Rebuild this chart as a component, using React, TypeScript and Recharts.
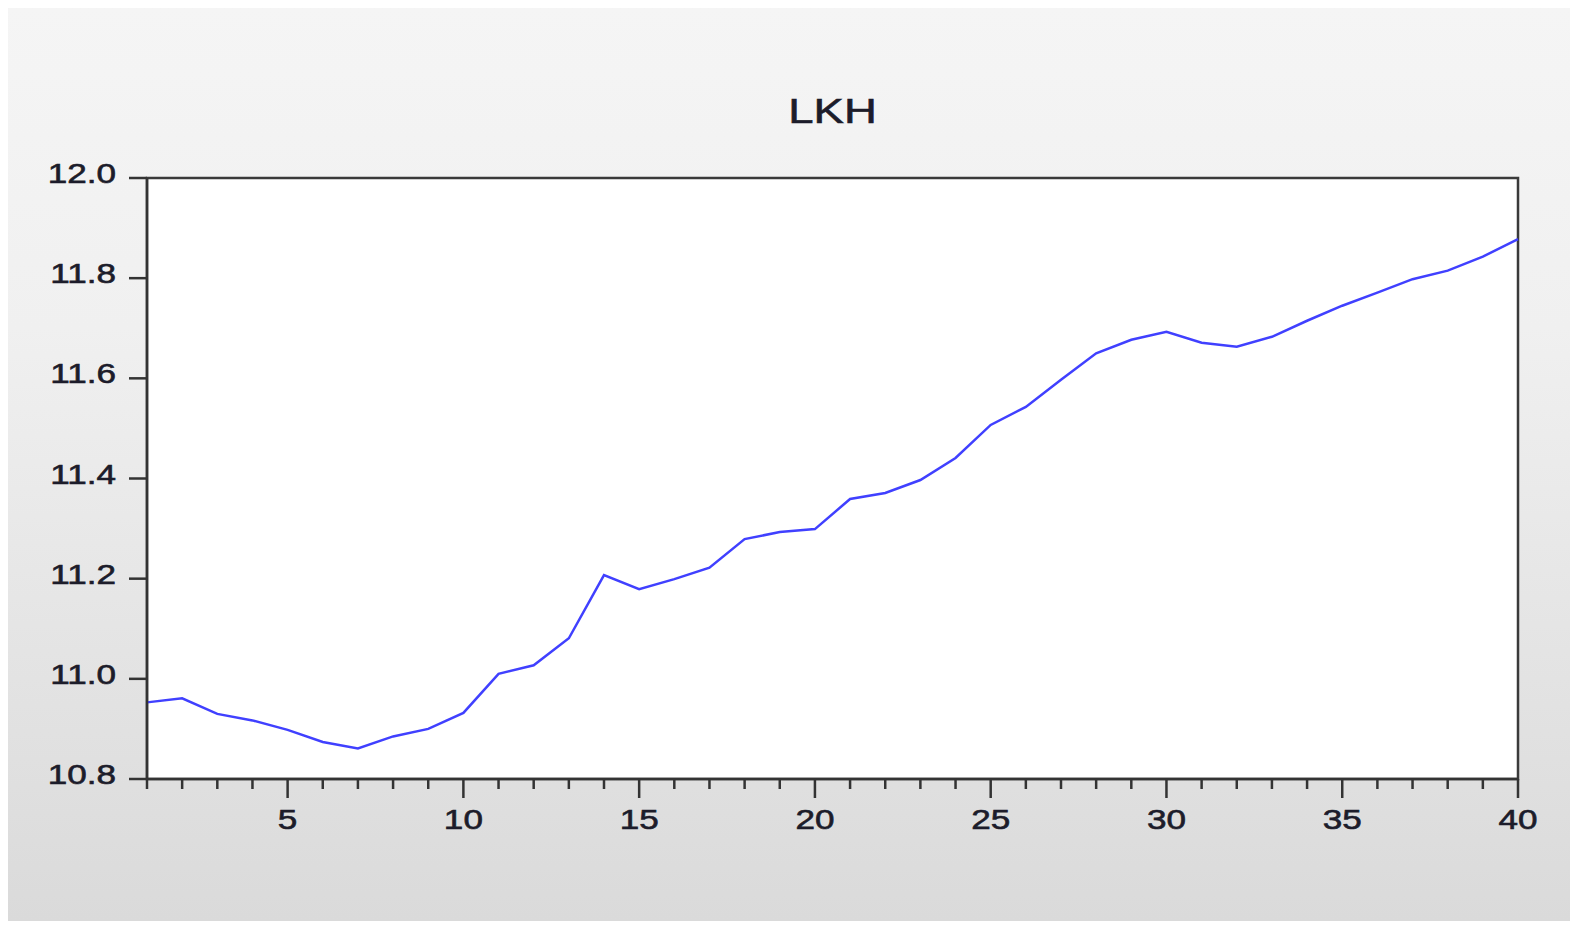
import React from 'react';
import { LineChart, Line, XAxis, YAxis, CartesianGrid, ReferenceArea } from 'recharts';

// series LKH, periods 1..40
const periods = [
  1, 2, 3, 4, 5, 6, 7, 8, 9, 10, 11, 12, 13, 14, 15, 16, 17, 18, 19, 20,
  21, 22, 23, 24, 25, 26, 27, 28, 29, 30, 31, 32, 33, 34, 35, 36, 37, 38, 39, 40,
];
const lkh = [
  10.953, 10.961, 10.93, 10.917, 10.898, 10.874, 10.861, 10.885, 10.9, 10.932,
  11.01, 11.027, 11.081, 11.207, 11.179, 11.199, 11.222, 11.279, 11.293, 11.299,
  11.359, 11.371, 11.397, 11.441, 11.507, 11.543, 11.597, 11.65, 11.677, 11.693,
  11.671, 11.663, 11.683, 11.715, 11.745, 11.771, 11.798, 11.815, 11.843, 11.878,
];
const xLabelTicks = [5, 10, 15, 20, 25, 30, 35, 40];
const yTicks = [10.8, 11.0, 11.2, 11.4, 11.6, 11.8, 12.0];

const data = periods.map((p, i) => ({ period: p, lkh: lkh[i] }));

const FONT = '"Liberation Sans", Arial, sans-serif';
const INK = '#1c1c2a';
const AXIS = '#333333';

const XTick = (props: any) => {
  const { x, y, payload } = props;
  const major = xLabelTicks.includes(payload.value);
  return (
    <g>
      <line x1={x} x2={x} y1={y} y2={y + (major ? 19 : 10)} stroke={AXIS} strokeWidth={2.5} />
      {major && (
        <text
          x={0}
          y={0}
          transform={`translate(${x},${y + 50}) scale(1.3,1)`}
          textAnchor="middle"
          fontFamily={FONT}
          fontSize={27}
          fill={INK}
          stroke={INK}
          strokeWidth={0.6}
        >
          {payload.value}
        </text>
      )}
    </g>
  );
};

const YTick = (props: any) => {
  const { x, y, payload } = props;
  return (
    <text
      x={0}
      y={0}
      dy={5}
      transform={`translate(${x},${y}) scale(1.3,1)`}
      textAnchor="end"
      fontFamily={FONT}
      fontSize={27}
      fill={INK}
      stroke={INK}
      strokeWidth={0.6}
    >
      {Number(payload.value).toFixed(1)}
    </text>
  );
};

export default function App() {
  return (
    <div
      style={{
        position: 'relative',
        width: 1562,
        height: 913,
        background: 'linear-gradient(to bottom, #f5f5f5 0%, #f0f0f0 35%, #dadada 100%)',
      }}
    >
      <div
        style={{
          position: 'absolute',
          top: 85,
          left: 139,
          width: 1371,
          textAlign: 'center',
          fontFamily: FONT,
          fontSize: 35,
          lineHeight: '35px',
          color: INK,
          transform: 'scaleX(1.3)',
          WebkitTextStroke: '0.6px #1c1c2a',
        }}
      >
        LKH
      </div>
      <LineChart
        width={1562}
        height={913}
        data={data}
        margin={{ top: 170, right: 52, bottom: 82, left: 0 }}
        style={{ position: 'absolute', top: 0, left: 0 }}
      >
        <CartesianGrid horizontal={false} vertical={false} fill="#ffffff" />
        <XAxis
          dataKey="period"
          type="number"
          domain={[1, 40]}
          ticks={periods}
          interval={0}
          height={60}
          tickLine={false}
          tickSize={0}
          tickMargin={0}
          axisLine={{ stroke: AXIS, strokeWidth: 2.5 }}
          tick={<XTick />}
        />
        <YAxis
          type="number"
          domain={[10.8, 12.0]}
          ticks={yTicks}
          interval={0}
          width={139}
          tickSize={18}
          tickMargin={13}
          tickLine={{ stroke: AXIS, strokeWidth: 2.5 }}
          axisLine={{ stroke: AXIS, strokeWidth: 2.5 }}
          tick={<YTick />}
        />
        <ReferenceArea
          x1={1}
          x2={40}
          y1={10.8}
          y2={12.0}
          fill="none"
          stroke="#3a3a3a"
          strokeWidth={2.5}
        />
        <Line
          type="linear"
          dataKey="lkh"
          stroke="#4040ff"
          strokeWidth={2.5}
          dot={false}
          isAnimationActive={false}
        />
      </LineChart>
    </div>
  );
}
